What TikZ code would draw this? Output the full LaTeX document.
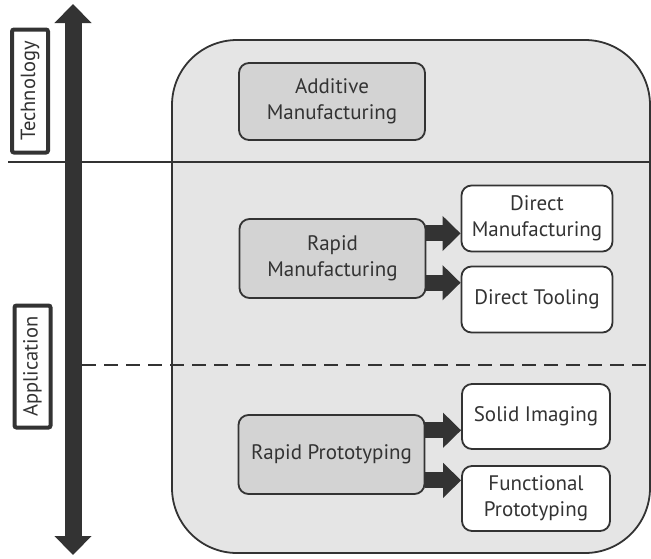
\documentclass[tikz,border=0pt]{standalone}
\usepackage{fontspec}
\setmainfont{PT Sans}
\usetikzlibrary{arrows.meta,calc}
\definecolor{ink}{HTML}{333333}
\definecolor{panelfill}{HTML}{E5E5E5}
\definecolor{stagefill}{HTML}{D3D3D3}

\begin{document}
\begin{tikzpicture}[x=1pt,y=-1pt,
  box/.style={draw=ink, line width=1.8pt, rounded corners=10pt, text=ink,
    font=\fontsize{21}{26}\selectfont, align=center, inner sep=0pt},
  stagebox/.style={box, fill=stagefill, minimum width=186pt, minimum height=79pt},
  usebox/.style={box, fill=white, minimum width=151pt, minimum height=66pt},
  tag/.style={draw=ink, line width=4pt, rounded corners=2pt, fill=white, rotate=90,
    text=ink, font=\fontsize{20.5}{22}\selectfont, inner sep=0pt,
    minimum height=36pt},
  flow/.style={ink, line width=16pt, -{Triangle[length=18pt,width=34pt]}},
  axis/.style={ink, line width=17pt,
    {Triangle[length=19pt,width=36pt]}-{Triangle[length=19pt,width=36pt]}},
  sep/.style={ink, line width=1.8pt},
]
\useasboundingbox (0,0) rectangle (651,558);

% enclosing panel
\node[draw=ink, fill=panelfill, line width=1.8pt, rounded corners=65pt,
      minimum width=478pt, minimum height=513pt, inner sep=0pt] (panel) at (411,296.5) {};

% level separators
\coordinate (solidL) at (8,162);
\coordinate (solidR) at (651,162);
\coordinate (dashL) at (82,365);
\coordinate (dashR) at (651,365);
\draw[sep] (solidL) -- (solidR);
\draw[sep, line width=2pt, dash pattern=on 14pt off 8pt] (dashL) -- (dashR);

% vertical axis
\coordinate (axtop) at (73,4);
\coordinate (axbot) at (73,555);
\draw[axis] (axtop) -- (axbot);

% axis labels
\node[tag, minimum width=123pt] (tech) at (30,91) {Technology};
\node[tag, minimum width=122pt] (appl) at (32.5,366.5) {Application};

% stages
\node[stagebox, minimum height=77pt] (am) at (332,101.5) {Additive\\Manufacturing};
\node[stagebox] (rm) at (332.5,258.5) {Rapid\\Manufacturing};
\node[stagebox] (rp) at (331.5,454.5) {Rapid Prototyping};

% uses
\node[usebox] (dm) at (537,218.5) {Direct\\Manufacturing};
\node[usebox] (dt) at (537,299.5) {Direct Tooling};
\node[usebox, minimum width=148pt, minimum height=65pt] (si) at (536,416.5) {Solid Imaging};
\node[usebox, minimum width=148pt, minimum height=65pt] (fp) at (536,498.5) {Functional\\Prototyping};

% block arrows
\coordinate (rm1) at ($(rm.north east)!0.19!(rm.south east)$);
\coordinate (rm2) at ($(rm.north east)!0.80!(rm.south east)$);
\coordinate (rp1) at ($(rp.north east)!0.20!(rp.south east)$);
\coordinate (rp2) at ($(rp.north east)!0.82!(rp.south east)$);
\draw[flow] (rm1) -- (rm1 -| dm.west);
\draw[flow] (rm2) -- (rm2 -| dt.west);
\draw[flow] (rp1) -- (rp1 -| si.west);
\draw[flow] (rp2) -- (rp2 -| fp.west);
\end{tikzpicture}
\end{document}
